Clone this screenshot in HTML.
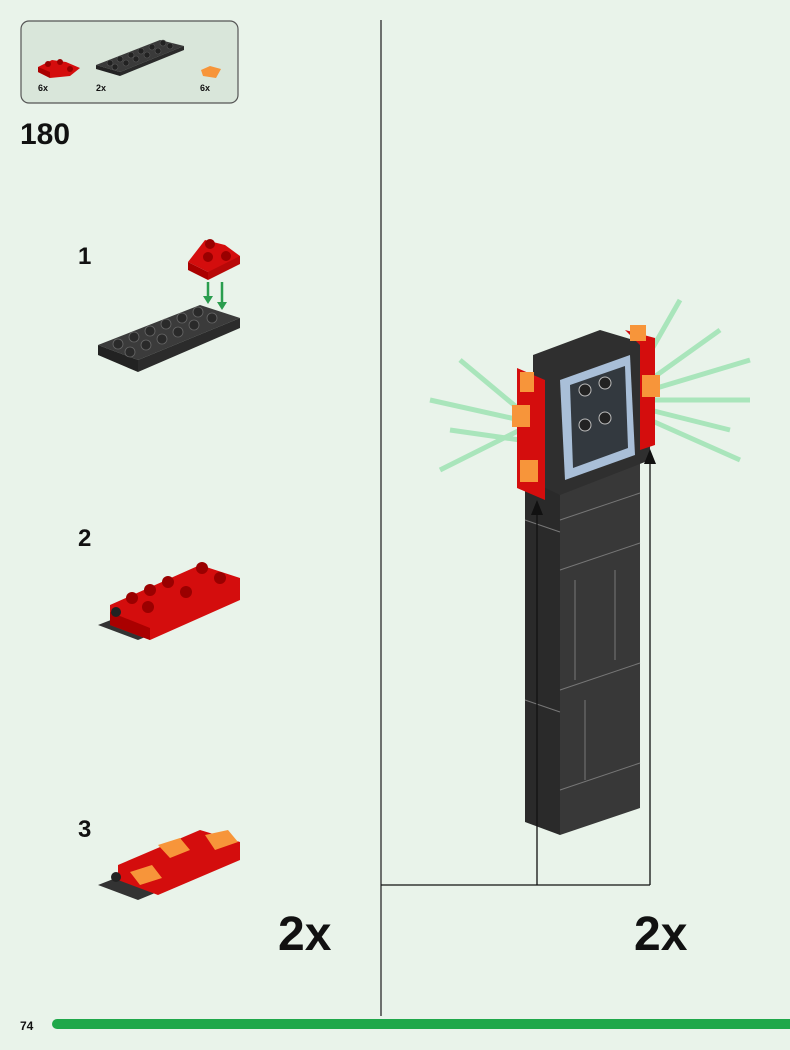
<!DOCTYPE html>
<html><head><style>
body{margin:0;background:#e9f3ea;}
svg{display:block}
text{font-family:"Liberation Sans",sans-serif;fill:#111}
</style></head><body>
<svg width="790" height="1050" viewBox="0 0 790 1050" xmlns="http://www.w3.org/2000/svg">
<rect width="790" height="1050" fill="#e9f3ea"/>
<!-- parts box -->
<rect x="21" y="21" width="217" height="82" rx="8" fill="#d9e6da" stroke="#555" stroke-width="1.2"/>
<polygon points="38,67 52,60 66,62 80,68 70,76 50,78 38,72" fill="#d40d0d"/>
<polygon points="38,67 50,72 50,78 38,72" fill="#a00"/>
<circle cx="48" cy="64" r="3" fill="#900"/><circle cx="60" cy="62" r="3" fill="#900"/><circle cx="70" cy="69" r="3" fill="#900"/>
<text x="38" y="91" font-size="9" font-weight="bold">6x</text>
<polygon points="96,65 160,40 184,46 120,72" fill="#3a3a3a"/>
<polygon points="96,65 120,72 120,76 96,69" fill="#222"/>
<polygon points="120,72 184,46 184,50 120,76" fill="#2a2a2a"/>
<g fill="#222" stroke="#555" stroke-width=".6">
<circle cx="110" cy="63" r="3"/><circle cx="120" cy="59" r="3"/><circle cx="131" cy="55" r="3"/><circle cx="141" cy="51" r="3"/><circle cx="152" cy="47" r="3"/><circle cx="163" cy="43" r="3"/>
<circle cx="115" cy="67" r="3"/><circle cx="126" cy="63" r="3"/><circle cx="136" cy="59" r="3"/><circle cx="147" cy="55" r="3"/><circle cx="158" cy="51" r="3"/><circle cx="170" cy="46" r="3"/></g>
<text x="96" y="91" font-size="9" font-weight="bold">2x</text>
<polygon points="201,70 210,66 221,69 216,78 203,76" fill="#f7953a"/>
<text x="200" y="91" font-size="9" font-weight="bold">6x</text>
<text x="20" y="144" font-size="30" font-weight="bold">180</text>
<!-- steps -->
<text x="78" y="264" font-size="24" font-weight="bold">1</text>
<text x="78" y="546" font-size="24" font-weight="bold">2</text>
<text x="78" y="837" font-size="24" font-weight="bold">3</text>
<!-- step1 -->
<polygon points="98,345 200,305 240,318 138,360" fill="#3b3b3b"/>
<polygon points="98,345 138,360 138,372 98,355" fill="#222"/>
<polygon points="138,360 240,318 240,328 138,372" fill="#2b2b2b"/>
<g fill="#2a2a2a" stroke="#666" stroke-width=".8">
<circle cx="118" cy="344" r="5"/><circle cx="134" cy="337" r="5"/><circle cx="150" cy="331" r="5"/><circle cx="166" cy="324" r="5"/><circle cx="182" cy="318" r="5"/><circle cx="198" cy="312" r="5"/>
<circle cx="130" cy="352" r="5"/><circle cx="146" cy="345" r="5"/><circle cx="162" cy="339" r="5"/><circle cx="178" cy="332" r="5"/><circle cx="194" cy="325" r="5"/><circle cx="212" cy="318" r="5"/></g>
<polygon points="188,262 205,240 225,245 240,256 232,268 208,272" fill="#d40d0d"/>
<polygon points="188,262 208,272 208,280 188,270" fill="#a00"/>
<polygon points="208,272 240,256 240,264 208,280" fill="#b80808"/>
<circle cx="210" cy="244" r="5" fill="#900"/><circle cx="208" cy="257" r="5" fill="#900"/><circle cx="226" cy="256" r="5" fill="#900"/>
<path d="M208 282 L208 300 M222 282 L222 308" stroke="#2a9d4e" stroke-width="2.5"/>
<polygon points="203,296 213,296 208,304" fill="#2a9d4e"/><polygon points="217,302 227,302 222,310" fill="#2a9d4e"/>
<!-- step2 -->
<polygon points="98,625 200,585 240,598 138,640" fill="#333"/>
<polygon points="110,605 200,565 240,578 240,600 150,640 110,625" fill="#d40d0d"/>
<polygon points="110,612 150,628 150,640 110,625" fill="#a00"/>
<g fill="#9a0000"><circle cx="132" cy="598" r="6"/><circle cx="150" cy="590" r="6"/><circle cx="168" cy="582" r="6"/><circle cx="202" cy="568" r="6"/><circle cx="148" cy="607" r="6"/><circle cx="186" cy="592" r="6"/><circle cx="220" cy="578" r="6"/></g>
<circle cx="116" cy="612" r="5" fill="#222"/>
<!-- step3 -->
<polygon points="98,885 200,845 240,858 138,900" fill="#333"/>
<polygon points="118,865 200,830 240,842 240,860 158,895 118,880" fill="#d40d0d"/>
<polygon points="158,845 180,838 190,850 170,858" fill="#f7953a"/>
<polygon points="205,835 228,830 238,842 215,850" fill="#f7953a"/>
<polygon points="130,872 152,865 162,878 140,885" fill="#f7953a"/>
<circle cx="116" cy="877" r="5" fill="#222"/>
<!-- center line -->
<line x1="381" y1="20" x2="381" y2="1016" stroke="#444" stroke-width="1.5"/>
<text x="278" y="950" font-size="48" font-weight="bold">2x</text>
<text x="634" y="950" font-size="48" font-weight="bold">2x</text>
<!-- glow -->
<g stroke="#8fe0a8" stroke-width="5" opacity=".7">
<line x1="520" y1="420" x2="430" y2="400"/><line x1="520" y1="430" x2="440" y2="470"/><line x1="520" y1="410" x2="460" y2="360"/><line x1="520" y1="440" x2="450" y2="430"/>
<line x1="650" y1="400" x2="750" y2="400"/><line x1="650" y1="380" x2="720" y2="330"/><line x1="650" y1="420" x2="740" y2="460"/><line x1="650" y1="390" x2="750" y2="360"/><line x1="650" y1="410" x2="730" y2="430"/><line x1="640" y1="370" x2="680" y2="300"/>
</g>
<!-- tower -->
<polygon points="525,380 560,392 560,835 525,822" fill="#2a2a2a"/>
<polygon points="560,392 640,365 640,808 560,835" fill="#383838"/>
<g stroke="#777" stroke-width="1" fill="none">
<path d="M560 520 L640 493 M560 570 L640 543 M560 690 L640 663 M560 790 L640 763 M525 520 L560 532 M525 700 L560 712"/>
<path d="M575 580 L575 680 M615 570 L615 660 M585 700 L585 780"/>
</g>
<polygon points="533,355 600,330 650,345 650,460 560,495 533,482" fill="#2f2f2f"/>
<polygon points="560,380 630,355 635,455 565,480" fill="#a9bfd8"/>
<polygon points="570,385 625,366 628,448 573,468" fill="#33393f"/>
<g fill="#222" stroke="#bbb"><circle cx="585" cy="390" r="6"/><circle cx="605" cy="383" r="6"/><circle cx="585" cy="425" r="6"/><circle cx="605" cy="418" r="6"/></g>
<polygon points="517,368 545,380 545,500 517,488" fill="#d40d0d"/>
<polygon points="625,330 655,338 655,445 640,450 640,345" fill="#d40d0d"/>
<g fill="#f7953a"><rect x="512" y="405" width="18" height="22"/><rect x="520" y="460" width="18" height="22"/><rect x="520" y="372" width="14" height="20"/><rect x="642" y="375" width="18" height="22"/><rect x="630" y="325" width="16" height="16"/></g>
<!-- connectors -->
<path d="M381 885 H650 M537 885 V505 M650 885 V455" stroke="#111" stroke-width="1.3" fill="none"/>
<polygon points="531,515 543,515 537,500" fill="#111"/>
<polygon points="644,464 656,464 650,449" fill="#111"/>
<!-- footer -->
<text x="20" y="1030" font-size="12" font-weight="bold">74</text>
<rect x="52" y="1019" width="760" height="10" rx="5" fill="#1fa84a"/>
</svg>
</body></html>
